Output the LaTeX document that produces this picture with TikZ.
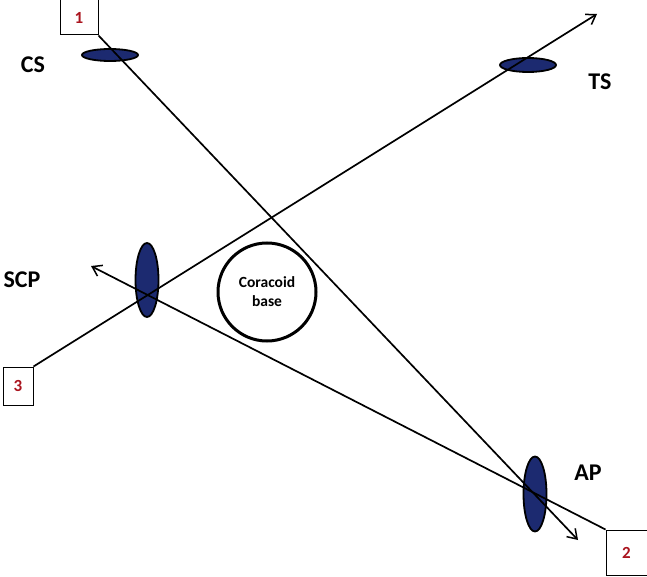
\documentclass[tikz,border=0pt]{standalone}
\usepackage{fontspec}
\setmainfont{Carlito}
\usetikzlibrary{positioning, shapes.geometric, arrows.meta}
\definecolor{navy}{RGB}{28,42,112}
\definecolor{numred}{RGB}{170,20,30}
\tikzset{
    numbox/.style={draw, line width=1pt, fill=white, inner sep=0pt, font=\fontsize{17}{17}\selectfont\bfseries, text=numred},
    muscle/.style={ellipse, draw, line width=1.8pt, fill=navy, inner sep=0pt},
    lbl/.style={font=\fontsize{24}{24}\selectfont\bfseries, inner sep=0pt},
    ray/.style={line width=1.7pt},
    rayarrow/.style={ray, -{Straight Barb[length=9pt, width=12pt, line width=1.5pt]}}
}
\begin{document}
\begin{tikzpicture}[x=1pt, y=-1pt]
    \useasboundingbox (0, 0) rectangle (647, 577);

    % Muscles
    \node[muscle, minimum width=56pt, minimum height=12pt] (cs) at (110, 55) {};
    \node[muscle, minimum width=56pt, minimum height=14pt] (ts) at (528, 65) {};
    \node[muscle, minimum width=23pt, minimum height=74pt] (scp) at (147, 280) {};
    \node[muscle, minimum width=23pt, minimum height=75pt] (ap) at (535, 494) {};

    % Coracoid
    \node[circle, draw, line width=3pt, minimum size=98pt, align=center, font=\fontsize{15.5}{19}\selectfont\bfseries] (cor) at (267, 292) {Coracoid\\base};

    % Numbered boxes
    \node[numbox, minimum width=38pt, minimum height=35pt] (b1) at (79, 17.5) {1};
    \node[numbox, minimum width=41pt, minimum height=45pt] (b2) at (626.5, 552.5) {2};
    \node[numbox, minimum width=30pt, minimum height=38pt] (b3) at (18, 386) {3};

    % Labels
    \node[lbl] (lcs) at (33, 65) {CS};
    \node[lbl] (lts) at (600, 82) {TS};
    \node[lbl] (lscp) at (22, 280) {SCP};
    \node[lbl] (lap) at (588, 473) {AP};

    % Free ends of the rays
    \coordinate (tip1) at (578, 540);
    \coordinate (tip2) at (91, 266);
    \coordinate (tip3) at (597, 14);

    % Rays
    \draw[rayarrow] (b1.south east) -- (tip1);
    \draw[rayarrow] (b2.north west) -- (tip2);
    \draw[rayarrow] (b3.north east) -- (tip3);
\end{tikzpicture}
\end{document}
